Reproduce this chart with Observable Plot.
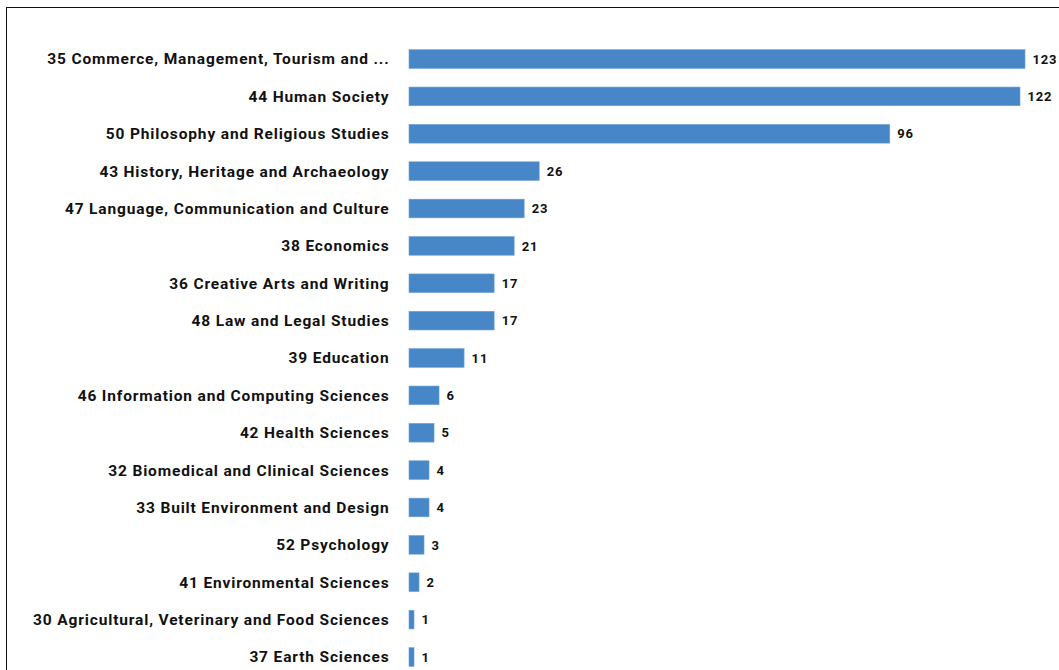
<!DOCTYPE html>
<html>
<head>
<meta charset="utf-8">
<script src="https://cdn.jsdelivr.net/npm/d3@7"></script>
<script src="https://cdn.jsdelivr.net/npm/@observablehq/plot@0.6"></script>
<style>
  html, body { margin: 0; padding: 0; background: #fff; overflow: hidden; width: 1059px; height: 670px; }
  #frame { position: absolute; left: 6px; top: 7px; width: 1100px; height: 700px; border-top: 1.5px solid #111; border-left: 1.5px solid #111; }
  #chart { position: absolute; left: 0; top: 0; }
</style>
</head>
<body>
<div id="frame"></div>
<div id="chart"></div>
<script>
const categories = [
  "35 Commerce, Management, Tourism and ...",
  "44 Human Society",
  "50 Philosophy and Religious Studies",
  "43 History, Heritage and Archaeology",
  "47 Language, Communication and Culture",
  "38 Economics",
  "36 Creative Arts and Writing",
  "48 Law and Legal Studies",
  "39 Education",
  "46 Information and Computing Sciences",
  "42 Health Sciences",
  "32 Biomedical and Clinical Sciences",
  "33 Built Environment and Design",
  "52 Psychology",
  "41 Environmental Sciences",
  "30 Agricultural, Veterinary and Food Sciences",
  "37 Earth Sciences"
];
const values = [123, 122, 96, 26, 23, 21, 17, 17, 11, 6, 5, 4, 4, 3, 2, 1, 1];

const data = categories.map((c, i) => ({category: c, value: values[i]}));

const chart = Plot.plot({
  width: 1059,
  height: 670,
  marginLeft: 409,
  marginRight: 34,
  marginTop: 0,
  marginBottom: 0,
  style: {fontFamily: "Roboto, sans-serif", background: "transparent", overflow: "visible", letterSpacing: "0.85px"},
  x: {domain: [0, 123], range: [409, 1025], axis: null},
  y: {domain: categories, range: [31, 685], padding: 0.5, round: false, label: null},
  marks: [
    Plot.barX(data, {x: "value", y: "category", fill: "#4787c8", stroke: "#6fa3d6", strokeWidth: 0.6}),
    Plot.text(data, {x: "value", y: "category", text: d => String(d.value), textAnchor: "start", dx: 7, fontSize: 13, fontWeight: "bold", fill: "#111"}),
    Plot.axisY({tickSize: 0, tickPadding: 20, fontSize: 15.5, fontWeight: "bold", fill: "#111", label: null})
  ]
});
document.getElementById("chart").appendChild(chart);
</script>
</body>
</html>
